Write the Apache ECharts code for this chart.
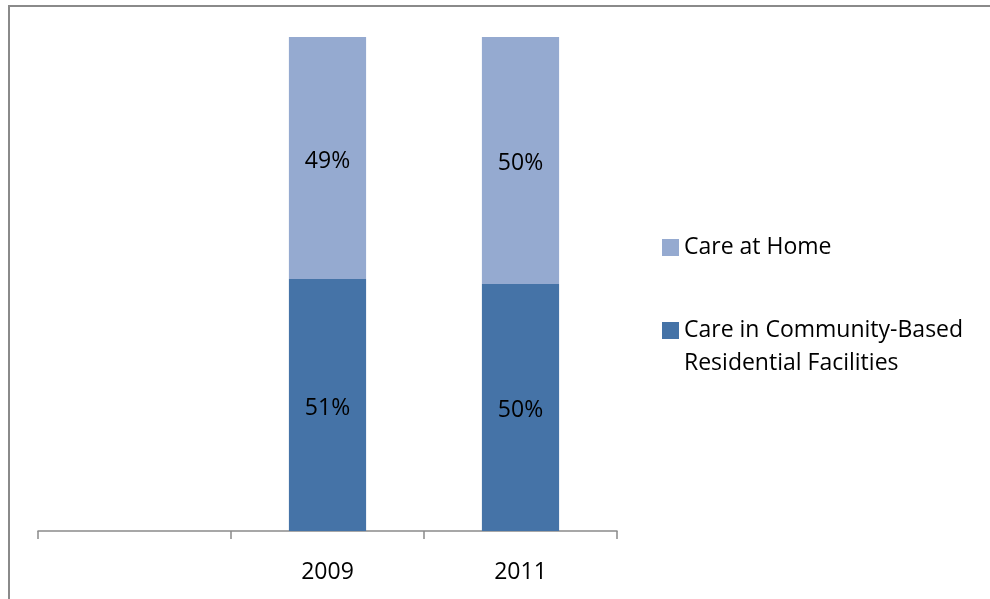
<!DOCTYPE html>
<html>
<head>
<meta charset="utf-8">
<script src="https://cdn.jsdelivr.net/npm/echarts@6/dist/echarts.min.js"></script>
<style>
  html, body { margin: 0; padding: 0; background: #ffffff; }
  #frame {
    position: absolute; left: 8px; top: 5px; width: 1100px; height: 700px;
    border-left: 2px solid #8a8a8a; border-top: 2px solid #8a8a8a;
  }
  #chart { position: absolute; left: 0; top: 0; width: 990px; height: 599px; }
</style>
</head>
<body>
<div id="frame"></div>
<div id="chart"></div>
<script>
// Share of care setting by year (stacked to 100%)
const years = ['', '2009', '2011'];
const careAtHome = [null, 49, 50];
const careInFacilities = [null, 51, 50];
const seriesNames = ['Care in Community-Based\nResidential Facilities', 'Care at Home'];
const colors = { facilities: '#4573A7', home: '#95AAD0' };

const FONT = '"Open Sans", "Noto Sans", sans-serif';
const FS = 23;

const chart = echarts.init(document.getElementById('chart'), null, { renderer: 'canvas' });

const pctLabel = {
  show: true,
  position: 'inside',
  offset: [0, 3],
  formatter: p => p.value + '%',
  color: '#000000',
  fontFamily: FONT,
  fontSize: FS
};

chart.setOption({
  animation: false,
  backgroundColor: 'transparent',
  grid: { left: 38, right: 373, top: 37, bottom: 68, containLabel: false },
  xAxis: {
    type: 'category',
    data: years,
    boundaryGap: true,
    axisLine: { show: true, lineStyle: { color: '#8a8a8a', width: 1.5 } },
    axisTick: { show: true, inside: false, length: 8, alignWithLabel: false,
                lineStyle: { color: '#8a8a8a', width: 1.5 } },
    axisLabel: { color: '#000000', fontFamily: FONT, fontSize: FS, margin: 30 }
  },
  yAxis: {
    type: 'value', min: 0, max: 100,
    show: false,
    splitLine: { show: false }
  },
  legend: [
    {
      orient: 'vertical', left: 657, top: 231,
      itemWidth: 17, itemHeight: 17, icon: 'rect',
      data: [seriesNames[1]],
      textStyle: { color: '#000000', fontFamily: FONT, fontSize: FS, lineHeight: 20 }
    },
    {
      // leading blank line keeps the first text line level with the swatch
      orient: 'vertical', left: 657, top: 276,
      itemWidth: 17, itemHeight: 17, icon: 'rect',
      data: [seriesNames[0]],
      formatter: name => '\n' + name,
      textStyle: { color: '#000000', fontFamily: FONT, fontSize: FS, lineHeight: 33 }
    }
  ],
  series: [
    {
      name: seriesNames[0], type: 'bar', stack: 'care',
      data: careInFacilities, barWidth: '40%',
      itemStyle: { color: colors.facilities },
      label: pctLabel
    },
    {
      name: seriesNames[1], type: 'bar', stack: 'care',
      data: careAtHome, barWidth: '40%',
      itemStyle: { color: colors.home },
      label: pctLabel
    }
  ]
});
</script>
</body>
</html>
